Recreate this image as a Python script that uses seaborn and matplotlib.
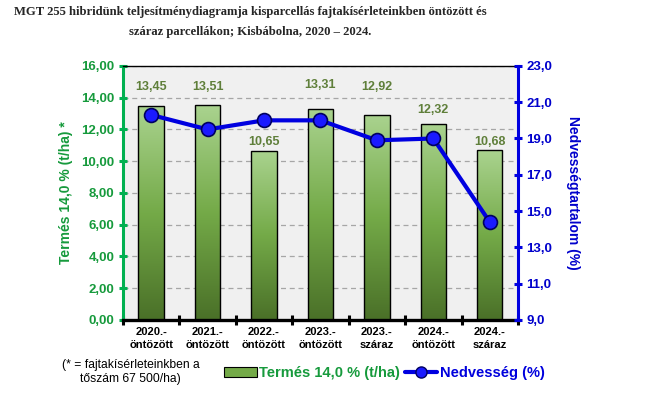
import numpy as np
import matplotlib
matplotlib.use("Agg")
import matplotlib.pyplot as plt
from matplotlib.colors import LinearSegmentedColormap
from matplotlib.patches import Patch
from matplotlib.lines import Line2D
import seaborn as sns


# Adatok
categories = ["2020.-\nöntözött", "2021.-\nöntözött", "2022.-\nöntözött", "2023.-\nöntözött",
              "2023.-\nszáraz", "2024.-\nöntözött", "2024.-\nszáraz"]
yield_values = [13.45, 13.51, 10.65, 13.31, 12.92, 12.32, 10.68]
moisture_values = [20.3, 19.5, 20.0, 20.0, 18.9, 19.0, 14.4]
left_ticks = [0, 2, 4, 6, 8, 10, 12, 14, 16]
right_ticks = [9, 11, 13, 15, 17, 19, 21, 23]
label_offsets_px = [19, 18, 9, 24, 28, 14, 8]  # címkék távolsága az oszlop tetejétől

GREEN_AX = "#00b050"
GREEN_TXT = "#169a3c"
BLUE = "#0000e0"
VAL_COLOR = "#5f7f3a"

sns.set_theme(style="white")
plt.rcParams['font.family'] = ['Liberation Sans', 'DejaVu Sans']

fig = plt.figure(figsize=(6.54, 3.97), dpi=100)
ax = fig.add_axes([0.188, 0.194, 0.604, 0.640])
ax.set_facecolor('#f0f0f0')

# Oszlopok
x_pos = np.arange(len(categories))
sns.barplot(x=x_pos, y=yield_values, ax=ax, color='#7aad50', width=0.45,
            edgecolor='black', linewidth=1.0, saturation=1, native_scale=True)

# Színátmenet az oszlopokon
cmap = LinearSegmentedColormap.from_list('g', ['#4a7028', '#74aa48', '#aad38f'])
grad = np.linspace(0, 1, 256).reshape(-1, 1)
for p in ax.patches:
    x0, w, h = p.get_x(), p.get_width(), p.get_height()
    im = ax.imshow(grad, extent=[x0, x0 + w, 0, h], origin='lower', aspect='auto',
                   cmap=cmap, zorder=2)
    im.set_clip_path(p)
    p.set_facecolor('none')
    p.set_zorder(3)

ax.set_xlim(-0.5, len(categories) - 0.5)
ax.set_ylim(left_ticks[0], left_ticks[-1])

# Rácsvonalak
ax.yaxis.grid(True, linestyle=(0, (4, 3)), color='#a6a6a6', linewidth=0.9)
ax.set_axisbelow(True)

# Értékcímkék
for i, (v, off) in enumerate(zip(yield_values, label_offsets_px)):
    ax.annotate(f"{v:.2f}".replace('.', ','), (i, v), xytext=(0, off * 0.72),
                textcoords='offset points', ha='center', va='center',
                color=VAL_COLOR, fontweight='bold', fontsize=9)

# Bal tengely
ax.set_yticks(left_ticks)
ax.set_yticklabels([f"{v:.2f}".replace('.', ',') for v in left_ticks], fontweight='bold')
ax.tick_params(axis='y', direction='inout', length=6, width=2.2, color=GREEN_AX,
               labelcolor=GREEN_TXT, labelsize=9.5, pad=3, left=True)
ax.set_ylabel("Termés 14,0 % (t/ha) *", color=GREEN_TXT, fontweight='bold', fontsize=10)
ax.yaxis.set_label_coords(-0.127, 0.5)

# X tengely
ax.set_xticks(x_pos)
ax.set_xticklabels(categories, fontweight='bold', fontsize=8, color='black', linespacing=1.35)
ax.set_xticks(np.arange(-0.5, len(categories), 1), minor=True)
ax.tick_params(axis='x', which='major', length=0, pad=5)
ax.tick_params(axis='x', which='minor', direction='inout', length=7, width=2.2,
               color='black', bottom=True)
ax.set_xlabel("")

for side in ['left', 'bottom', 'top', 'right']:
    ax.spines[side].set_visible(True)
ax.spines['left'].set_color(GREEN_AX)
ax.spines['left'].set_linewidth(2.2)
ax.spines['bottom'].set_color('black')
ax.spines['bottom'].set_linewidth(2.4)
ax.spines['top'].set_color('black')
ax.spines['top'].set_linewidth(1.0)
ax.spines['right'].set_visible(False)

# Jobb tengely - nedvesség
ax2 = ax.twinx()
sns.lineplot(x=x_pos, y=moisture_values, ax=ax2, color=BLUE, linewidth=3,
             marker='o', markersize=10, markerfacecolor='#1a1aff',
             markeredgecolor='#000060', markeredgewidth=1.2)
ax2.set_xlim(-0.5, len(categories) - 0.5)
ax2.set_ylim(right_ticks[0], right_ticks[-1])
ax2.set_yticks(right_ticks)
ax2.set_yticklabels([f"{v:.1f}".replace('.', ',') for v in right_ticks], fontweight='bold')
ax2.tick_params(axis='y', direction='inout', length=6, width=2.2, color=BLUE,
                labelcolor='#0000cc', labelsize=9.5, pad=3, right=True)
ax2.set_ylabel("Nedvességtartalom (%)", color='#0000cc', fontweight='bold',
               fontsize=10, rotation=270, va='center')
ax2.yaxis.set_label_coords(1.139, 0.5)
ax2.grid(False)
for side in ['left', 'bottom', 'top']:
    ax2.spines[side].set_visible(False)
ax2.spines['right'].set_visible(True)
ax2.spines['right'].set_color(BLUE)
ax2.spines['right'].set_linewidth(2.2)

# Cím
fig.text(0.383, 0.970,
         "MGT 255 hibridünk teljesítménydiagramja kisparcellás fajtakísérleteinkben öntözött és",
         ha='center', va='center', family='Liberation Serif', fontweight='bold', fontsize=9.1)
fig.text(0.383, 0.919, "száraz parcellákon; Kisbábolna, 2020 – 2024.",
         ha='center', va='center', family='Liberation Serif', fontweight='bold', fontsize=9.1)

# Lábjegyzet
fig.text(0.2, 0.062, "(* = fajtakísérleteinkben a\ntőszám 67 500/ha)", ha='center', va='center',
         fontsize=8.7, multialignment='center', color='black')

# Jelmagyarázat
handles = [Patch(facecolor='#74aa48', edgecolor='black', linewidth=0.8),
           Line2D([0], [0], color=BLUE, linewidth=3, marker='o', markersize=8,
                  markerfacecolor='#1a1aff', markeredgecolor='#000060')]
fig.legend(handles, ["Termés 14,0 % (t/ha)", "Nedvesség (%)"], loc='center',
           bbox_to_anchor=(0.588, 0.06), ncol=2, frameon=False, handlelength=2.2,
           handleheight=0.6, columnspacing=0.3, handletextpad=0.2,
           prop={'weight': 'bold', 'size': 10.5}, labelcolor=[GREEN_TXT, '#0000dd'])

fig.savefig("out.png", dpi=100)
